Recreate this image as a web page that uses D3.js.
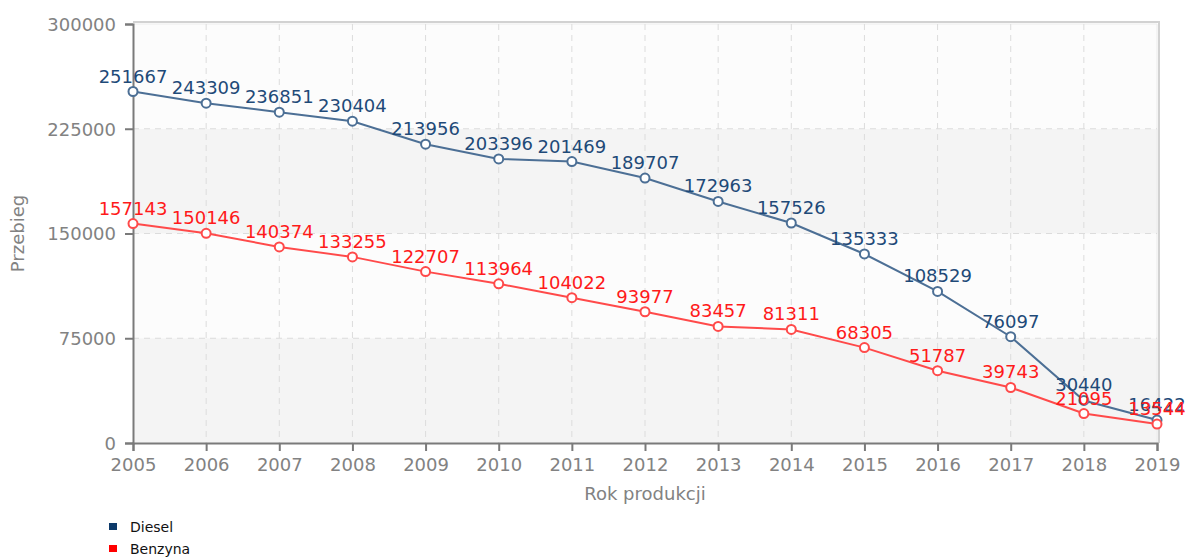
<!DOCTYPE html>
<html>
<head>
<meta charset="utf-8">
<script src="https://cdn.jsdelivr.net/npm/d3@7"></script>
<style>
  html, body { margin: 0; padding: 0; background: #fff; }
  svg { display: block; font-family: "DejaVu Sans", Verdana, sans-serif; }
</style>
</head>
<body>
<div id="chart"></div>
<script>
// Data
const years = [2005, 2006, 2007, 2008, 2009, 2010, 2011, 2012, 2013, 2014, 2015, 2016, 2017, 2018, 2019];
const diesel = [251667, 243309, 236851, 230404, 213956, 203396, 201469, 189707, 172963, 157526, 135333, 108529, 76097, 30440, 16422];
const benzyna = [157143, 150146, 140374, 133255, 122707, 113964, 104022, 93977, 83457, 81311, 68305, 51787, 39743, 21095, 13544];
const yTicks = [0, 75000, 150000, 225000, 300000];
const seriesNames = ['Diesel', 'Benzyna'];

const W = 1188, H = 557;
const plotLeft = 133, plotRight = 1157, plotTop = 24, plotBottom = 443;

const svg = d3.select('#chart').append('svg')
    .attr('width', W)
    .attr('height', H);

const x = d3.scalePoint()
    .domain(years)
    .range([plotLeft, plotRight]);

const y = d3.scaleLinear()
    .domain([0, 300000])
    .range([plotBottom, plotTop]);

// Plot background bands
const bands = d3.pairs(yTicks);
svg.append('g').selectAll('rect')
    .data(bands)
    .join('rect')
    .attr('x', plotLeft)
    .attr('width', plotRight + 2 - plotLeft)
    .attr('y', d => y(d[1]))
    .attr('height', d => y(d[0]) - y(d[1]))
    .attr('fill', (d, i) => i % 2 === 0 ? '#f4f4f4' : '#fcfcfc');

// Frame top / right
svg.append('path')
    .attr('d', `M${plotLeft},${plotTop - 2}H${plotRight + 2}V${plotBottom}`)
    .attr('fill', 'none')
    .attr('stroke', '#d2d2d2')
    .attr('stroke-width', 2);
svg.append('path')
    .attr('d', `M${plotLeft},${plotTop}H${plotRight}V${plotBottom}`)
    .attr('fill', 'none')
    .attr('stroke', '#ececec')
    .attr('stroke-width', 1);

// Gridlines
svg.append('g').selectAll('line')
    .data(yTicks.slice(1, -1))
    .join('line')
    .attr('x1', plotLeft).attr('x2', plotRight)
    .attr('y1', d => y(d)).attr('y2', d => y(d))
    .attr('stroke', '#dcdcdc')
    .attr('stroke-dasharray', '6,5');

svg.append('g').selectAll('line')
    .data(years.slice(1, -1))
    .join('line')
    .attr('x1', d => x(d)).attr('x2', d => x(d))
    .attr('y1', plotTop).attr('y2', plotBottom)
    .attr('stroke', '#dcdcdc')
    .attr('stroke-dasharray', '6,5');

// Axes
const yAxis = svg.append('g')
    .attr('transform', `translate(${plotLeft},0)`)
    .call(d3.axisLeft(y).tickValues(yTicks).tickSize(8).tickPadding(9).tickFormat(d3.format('d')));
const xAxis = svg.append('g')
    .attr('transform', `translate(0,${plotBottom})`)
    .call(d3.axisBottom(x).tickSize(8).tickPadding(7));

[yAxis, xAxis].forEach(a => {
    a.select('.domain').attr('stroke', '#7a7a7a').attr('stroke-width', 2);
    a.selectAll('.tick line').attr('stroke', '#7a7a7a').attr('stroke-width', 2);
    a.selectAll('.tick text')
        .attr('fill', '#828282')
        .attr('font-size', '18px')
        .attr('font-family', '"DejaVu Sans", Verdana, sans-serif');
});
yAxis.selectAll('.tick text').attr('dy', '0.36em');

// Axis titles
svg.append('text')
    .attr('x', (plotLeft + plotRight) / 2)
    .attr('y', 500)
    .attr('text-anchor', 'middle')
    .attr('font-size', '18px')
    .attr('fill', '#828282')
    .text('Rok produkcji');

svg.append('text')
    .attr('transform', `translate(24,${(plotTop + plotBottom) / 2}) rotate(-90)`)
    .attr('text-anchor', 'middle')
    .attr('font-size', '18px')
    .attr('fill', '#828282')
    .text('Przebieg');

// Series
const series = [
    { name: seriesNames[0], values: diesel, line: '#4c6f95', label: '#1f4a78', legend: '#0d3a6a' },
    { name: seriesNames[1], values: benzyna, line: '#ff4a4a', label: '#ff1a1a', legend: '#ff0000' }
];

const line = d3.line()
    .x((d, i) => x(years[i]))
    .y(d => y(d));

series.forEach(s => {
    const g = svg.append('g');
    g.append('path')
        .datum(s.values)
        .attr('d', line)
        .attr('fill', 'none')
        .attr('stroke', s.line)
        .attr('stroke-width', 2);

    g.selectAll('circle')
        .data(s.values)
        .join('circle')
        .attr('cx', (d, i) => x(years[i]))
        .attr('cy', d => y(d))
        .attr('r', 4.5)
        .attr('fill', '#fff')
        .attr('stroke', s.line)
        .attr('stroke-width', 2);

    g.selectAll('text')
        .data(s.values)
        .join('text')
        .attr('x', (d, i) => x(years[i]))
        .attr('y', d => y(d) - 9)
        .attr('text-anchor', 'middle')
        .attr('font-size', '18px')
        .attr('fill', s.label)
        .text(d => d);
});

// Legend
const legend = svg.append('g')
    .selectAll('g')
    .data(series)
    .join('g')
    .attr('transform', (d, i) => `translate(109,${527 + i * 22})`);

legend.append('rect')
    .attr('x', 0).attr('y', -4)
    .attr('width', 8).attr('height', 7)
    .attr('fill', d => d.legend);

legend.append('text')
    .attr('x', 21)
    .attr('y', 0)
    .attr('dy', '0.36em')
    .attr('font-size', '14px')
    .attr('fill', '#111')
    .text(d => d.name);
</script>
</body>
</html>
